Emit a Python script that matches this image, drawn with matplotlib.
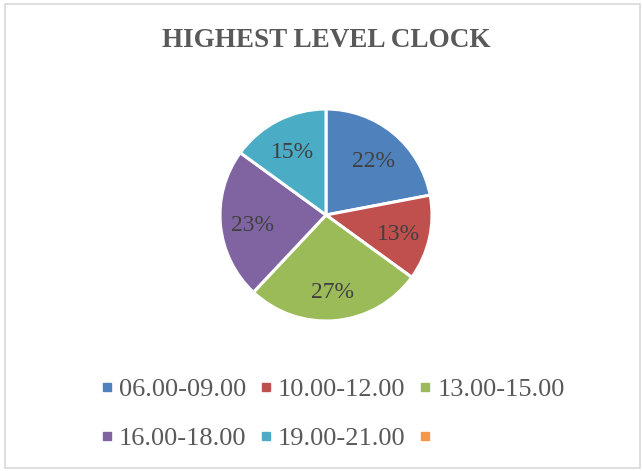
import matplotlib.pyplot as plt
from matplotlib.lines import Line2D
from matplotlib.patches import Rectangle

# data
categories = ["06.00-09.00", "10.00-12.00", "13.00-15.00", "16.00-18.00", "19.00-21.00", ""]
shares = [22, 13, 27, 23, 15, 0]
colors = ["#4F81BD", "#C0504D", "#9BBB59", "#8064A2", "#4BACC6", "#F79646"]

plt.rcParams['font.family'] = ['Liberation Serif', 'DejaVu Serif']

fig = plt.figure(figsize=(6.42, 4.71), dpi=100)

# chart border
fig.patches.append(Rectangle((5 / 642, 3 / 471), 635 / 642, 464 / 471, transform=fig.transFigure,
                             fill=False, edgecolor="#D9D9D9", linewidth=1.2))

fig.text(0.508, 0.913, "HIGHEST LEVEL CLOCK", ha="center", va="center",
         fontsize=19.5, fontweight="bold", color="#595959")

# pie axes, centre ~(326,215) px, radius ~105 px
r = 106
ax = fig.add_axes([(326 - r) / 642, 1 - (215 + r) / 471, 2 * r / 642, 2 * r / 471])
vals = [v for v in shares if v > 0]
cols = [c for v, c in zip(shares, colors) if v > 0]
wedges, texts, autotexts = ax.pie(vals, colors=cols, startangle=90, counterclock=False,
                                  autopct="%1.0f%%", pctdistance=0.7,
                                  wedgeprops=dict(edgecolor="white", linewidth=2.2),
                                  textprops=dict(fontsize=17, color="#404040"))
for t in autotexts:
    x, y = t.get_position()
    t.set_position((x, y - 0.03))
ax.set_xlim(-1, 1)
ax.set_ylim(-1, 1)
ax.set_aspect("auto")
ax.axis("off")

# legend, filled row by row
handles = [Line2D([], [], marker="s", linestyle="none", markersize=6,
                  markerfacecolor=c, markeredgecolor=c) for c in colors]
order = [0, 3, 1, 4, 2, 5]
fig.legend([handles[i] for i in order], [categories[i] for i in order],
           ncol=3, loc="center", bbox_to_anchor=(0.519, 0.121), frameon=False,
           fontsize=19, labelcolor="#595959", handlelength=0.4, handletextpad=0.25,
           columnspacing=0.55, labelspacing=0.98, borderpad=0, borderaxespad=0)

fig.savefig("out.png", dpi=100)
